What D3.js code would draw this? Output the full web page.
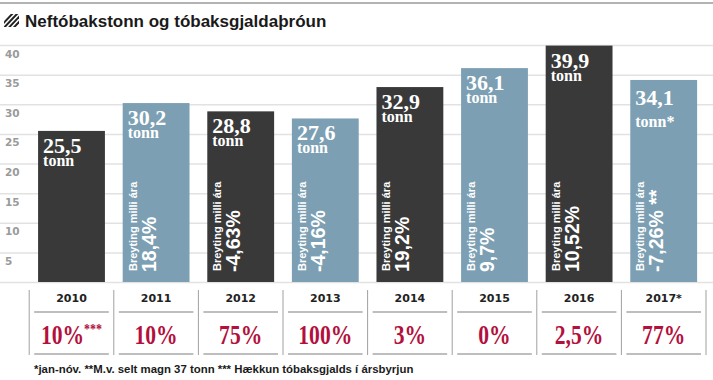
<!DOCTYPE html>
<html>
<head>
<meta charset="utf-8">
<script src="https://cdn.jsdelivr.net/npm/d3@7"></script>
<style>
  body { margin: 0; background: #fff; }
  svg { display: block; }
</style>
</head>
<body>
<svg id="chart" width="713" height="380"></svg>
<script>
var years = ["2010", "2011", "2012", "2013", "2014", "2015", "2016", "2017*"];
var tonnes = [25.5, 30.2, 28.8, 27.6, 32.9, 36.1, 39.9, 34.1];
var tonnLabels = ["tonn", "tonn", "tonn", "tonn", "tonn", "tonn", "tonn", "tonn*"];
var changes = [null, "18,4%", "-4,63%", "-4,16%", "19,2%", "9,7%", "10,52%", "-7,26% **"];
var taxRise = ["10%", "10%", "75%", "100%", "3%", "0%", "2,5%", "77%"];
var taxNotes = ["***", "", "", "", "", "", "", ""];
var yTicks = [0, 5, 10, 15, 20, 25, 30, 35, 40];
var footnote = "*jan-nóv. **M.v. selt magn 37 tonn *** Hækkun tóbaksgjalds í ársbyrjun";

var W = 713, H = 380;
var DARK = "#393939", BLUE = "#7d9fb3", RED = "#b3103d";
var SANS = "'Liberation Sans', Arial, sans-serif";
var SERIF = "'Liberation Serif', 'Times New Roman', serif";

var svg = d3.select("#chart");
var isl = d3.formatLocale({ decimal: ",", thousands: ".", grouping: [3], currency: ["", ""] });
var fmt = isl.format(".1f");

// header
svg.append("line").attr("x1", 0).attr("x2", W).attr("y1", 3).attr("y2", 3)
  .attr("stroke", "#9a9a9a").attr("stroke-width", 1.5);

var clip = svg.append("clipPath").attr("id", "hatch");
clip.append("rect").attr("x", 4).attr("y", 14).attr("width", 15).attr("height", 13);
var hatch = svg.append("g").attr("clip-path", "url(#hatch)");
[0, 1, 2, 3].forEach(function (i) {
  hatch.append("line")
    .attr("x1", -2 + i * 4.8).attr("y1", 29)
    .attr("x2", 14 + i * 4.8).attr("y2", 12)
    .attr("stroke", "#222").attr("stroke-width", 2);
});

svg.append("text").attr("x", 25).attr("y", 27)
  .attr("font-family", SANS).attr("font-weight", "bold").attr("font-size", 17)
  .attr("fill", "#1a1a1a").text("Neftóbakstonn og tóbaksgjaldaþróun");

// scales
var x = d3.scaleBand().domain(years).range([29.2, 706]).paddingInner(0.21).paddingOuter(0.105);
var y = d3.scaleLinear().domain([0, 40]).range([282, 45]);

// grid + y labels
var yAxis = d3.axisRight(y).tickValues(yTicks).tickSize(W)
  .tickFormat(function (d) { return d === 0 ? "" : d; });
var gy = svg.append("g").call(yAxis);
gy.select(".domain").remove();
gy.selectAll(".tick line").attr("stroke", "#e2e2e2").attr("stroke-width", 1.5);
gy.selectAll(".tick text")
  .attr("x", 5).attr("dy", 12).attr("text-anchor", "start")
  .attr("font-family", "'DejaVu Sans', sans-serif").attr("font-weight", "bold")
  .attr("font-size", 10.5).attr("fill", "#9a9a9a");

// bars
var bars = svg.append("g").selectAll("g").data(years).join("g")
  .attr("transform", function (d) { return "translate(" + x(d) + ",0)"; });

bars.append("rect")
  .attr("y", function (d, i) { return y(tonnes[i]); })
  .attr("width", x.bandwidth())
  .attr("height", function (d, i) { return y(0) - y(tonnes[i]); })
  .attr("fill", function (d, i) { return i % 2 === 0 ? DARK : BLUE; });

var last = years.length - 1;
bars.append("text")
  .attr("x", 5)
  .attr("y", function (d, i) { return y(tonnes[i]) + (i === last ? 25 : 22); })
  .attr("font-family", SERIF).attr("font-weight", "bold").attr("font-size", 22)
  .attr("fill", "#fff")
  .text(function (d, i) { return fmt(tonnes[i]); });

bars.append("text")
  .attr("x", 5)
  .attr("y", function (d, i) { return y(tonnes[i]) + (i === last ? 47 : 35); })
  .attr("font-family", SERIF).attr("font-weight", "bold").attr("font-size", 16)
  .attr("fill", "#fff")
  .text(function (d, i) { return tonnLabels[i]; });

var chg = bars.filter(function (d, i) { return changes[i] !== null; });
chg.append("text")
  .attr("transform", "translate(14," + (y(0) - 11) + ") rotate(-90)")
  .attr("font-family", SANS).attr("font-weight", "bold").attr("font-size", 11)
  .attr("fill", "#fff").text("Breyting milli ára");
chg.append("text")
  .attr("transform", "translate(33," + (y(0) - 10) + ") rotate(-90)")
  .attr("font-family", SANS).attr("font-weight", "bold").attr("font-size", 19.5)
  .attr("fill", "#fff")
  .text(function (d) { return changes[years.indexOf(d)]; });

// table
var step = x.step();
var t0 = x.range()[0];
var table = svg.append("g");
d3.range(years.length + 1).forEach(function (i) {
  table.append("line")
    .attr("x1", t0 + i * step).attr("x2", t0 + i * step)
    .attr("y1", 290).attr("y2", 355)
    .attr("stroke", "#a0a0a0").attr("stroke-width", 1);
});

var cells = table.selectAll("g.cell").data(years).join("g").attr("class", "cell")
  .attr("transform", function (d, i) { return "translate(" + (t0 + i * step) + ",0)"; });

cells.append("text")
  .attr("x", step / 2).attr("y", 302).attr("text-anchor", "middle")
  .attr("font-family", "'DejaVu Sans', sans-serif").attr("font-weight", "bold")
  .attr("font-size", 11).attr("fill", "#222")
  .text(function (d) { return d; });

[312, 354].forEach(function (ly) {
  cells.append("line")
    .attr("x1", 5).attr("x2", step - 5).attr("y1", ly).attr("y2", ly)
    .attr("stroke", "#a8a8a8").attr("stroke-width", 1.5);
});

// condensed serif look: scale the glyphs horizontally
var pct = cells.append("text")
  .attr("transform", "translate(" + (step / 2) + ",344) scale(0.8,1)")
  .attr("text-anchor", "middle")
  .attr("font-family", SERIF).attr("font-weight", "bold")
  .attr("font-size", 27).attr("fill", RED);
pct.append("tspan").text(function (d, i) { return taxRise[i]; });
pct.append("tspan")
  .attr("font-size", 15).attr("dy", -10)
  .text(function (d, i) { return taxNotes[i]; });

// footnote
svg.append("text").attr("x", 34).attr("y", 373)
  .attr("font-family", SANS).attr("font-weight", "bold").attr("font-size", 11.4)
  .attr("fill", "#1a1a1a").text(footnote);
</script>
</body>
</html>
